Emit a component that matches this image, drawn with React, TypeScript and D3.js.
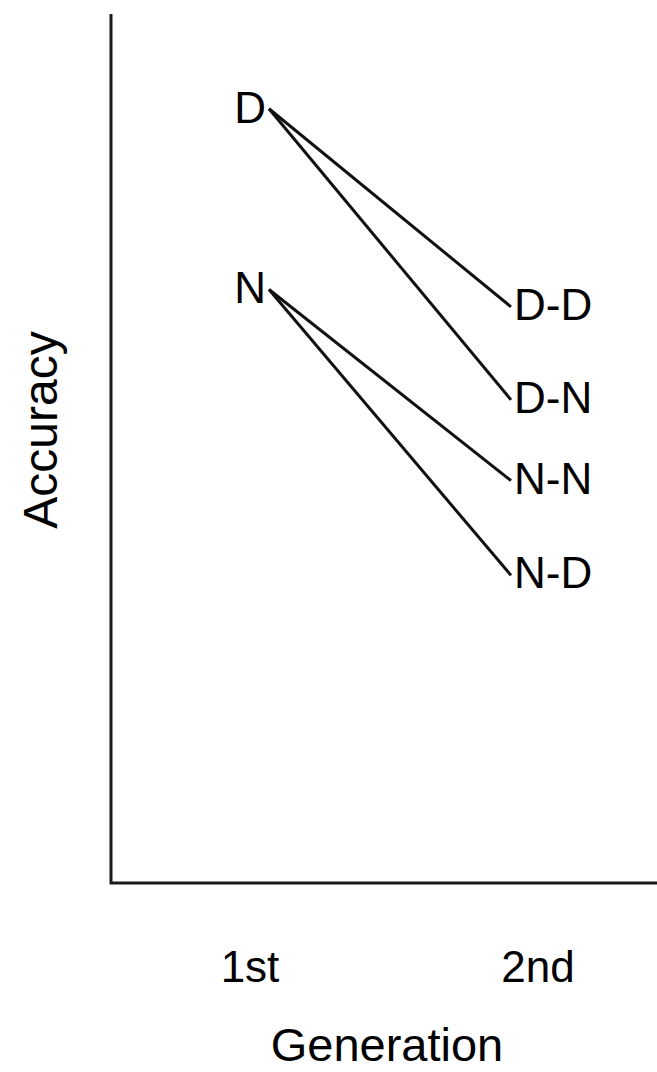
import React, { useEffect, useRef } from 'react';
import * as d3 from 'd3';

const generations = ['1st', '2nd'];
const firstGen = ['D', 'N'];
const firstAccuracy = [89.1, 68.3];
const secondGen = ['D-D', 'D-N', 'N-N', 'N-D'];
const secondAccuracy = [66.3, 55.6, 46.3, 35.4];
const parentOf = ['D', 'D', 'N', 'N'];

const WIDTH = 657;
const HEIGHT = 1072;
const FONT = '"Liberation Sans", Arial, sans-serif';

const App: React.FC = () => {
  const svgRef = useRef<SVGSVGElement>(null);

  useEffect(() => {
    const svg = d3.select(svgRef.current);
    svg.selectAll('*').remove();

    const left = 111;
    const top = 14;
    const bottom = 883;

    const xScale = d3.scalePoint<string>()
      .domain(generations)
      .range([250, 538]);

    const yScale = d3.scaleLinear()
      .domain([0, 100])
      .range([bottom, top]);

    // axes (no ticks, just the two lines)
    svg.append('path')
      .attr('d', `M${left},${top}V${bottom}H${WIDTH}`)
      .attr('fill', 'none')
      .attr('stroke', '#1a1a1a')
      .attr('stroke-width', 3);

    // category labels
    svg.selectAll('.tick-label')
      .data(generations)
      .enter().append('text')
      .attr('class', 'tick-label')
      .attr('x', d => xScale(d) as number)
      .attr('y', 982)
      .attr('text-anchor', 'middle')
      .attr('font-family', FONT)
      .attr('font-size', 44)
      .attr('fill', '#000')
      .text(d => d);

    // axis titles
    svg.append('text')
      .attr('x', 387)
      .attr('y', 1061)
      .attr('text-anchor', 'middle')
      .attr('font-family', FONT)
      .attr('font-size', 47)
      .attr('fill', '#000')
      .text('Generation');

    svg.append('text')
      .attr('transform', 'translate(57,430) rotate(-90)')
      .attr('text-anchor', 'middle')
      .attr('font-family', FONT)
      .attr('font-size', 48)
      .attr('fill', '#000')
      .text('Accuracy');

    const x1 = (xScale('1st') as number) + 19;
    const x2 = (xScale('2nd') as number) - 27;

    // connecting lines
    secondGen.forEach((name, i) => {
      const p = firstGen.indexOf(parentOf[i]);
      svg.append('line')
        .attr('x1', x1)
        .attr('y1', yScale(firstAccuracy[p]))
        .attr('x2', x2)
        .attr('y2', yScale(secondAccuracy[i]))
        .attr('stroke', '#111')
        .attr('stroke-width', 3);
    });

    // first generation labels
    svg.selectAll('.first')
      .data(firstGen)
      .enter().append('text')
      .attr('class', 'first')
      .attr('x', x1 - 3)
      .attr('y', (_d, i) => yScale(firstAccuracy[i]) + 14)
      .attr('text-anchor', 'end')
      .attr('font-family', FONT)
      .attr('font-size', 44)
      .attr('fill', '#000')
      .text(d => d);

    // second generation labels
    svg.selectAll('.second')
      .data(secondGen)
      .enter().append('text')
      .attr('class', 'second')
      .attr('x', x2 + 3)
      .attr('y', (_d, i) => yScale(secondAccuracy[i]) + 13)
      .attr('text-anchor', 'start')
      .attr('font-family', FONT)
      .attr('font-size', 44)
      .attr('fill', '#000')
      .text(d => d);
  }, []);

  return (
    <div style={{ position: 'absolute', left: 0, top: 0, width: WIDTH, height: HEIGHT, background: '#fff' }}>
      <svg ref={svgRef} width={WIDTH} height={HEIGHT} style={{ display: 'block' }}></svg>
    </div>
  );
};

export default App;
